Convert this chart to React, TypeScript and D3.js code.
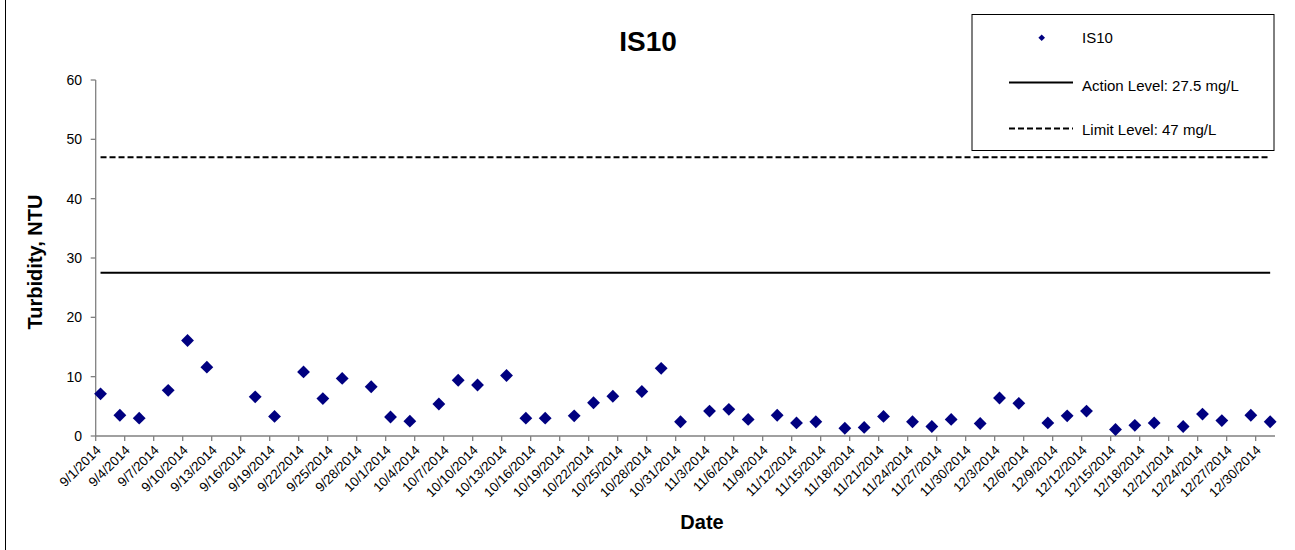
import React from "react";
import * as d3 from "d3";

const sampleDates: string[] = [
  "9/1/2014", "9/3/2014", "9/5/2014", "9/8/2014", "9/10/2014", "9/12/2014", "9/17/2014", "9/19/2014",
  "9/22/2014", "9/24/2014", "9/26/2014", "9/29/2014", "10/1/2014", "10/3/2014", "10/6/2014", "10/8/2014",
  "10/10/2014", "10/13/2014", "10/15/2014", "10/17/2014", "10/20/2014", "10/22/2014", "10/24/2014",
  "10/27/2014", "10/29/2014", "10/31/2014", "11/3/2014", "11/5/2014", "11/7/2014", "11/10/2014",
  "11/12/2014", "11/14/2014", "11/17/2014", "11/19/2014", "11/21/2014", "11/24/2014", "11/26/2014",
  "11/28/2014", "12/1/2014", "12/3/2014", "12/5/2014", "12/8/2014", "12/10/2014", "12/12/2014",
  "12/15/2014", "12/17/2014", "12/19/2014", "12/22/2014", "12/24/2014", "12/26/2014", "12/29/2014",
  "12/31/2014",
];

const turbidity: number[] = [
  7.1, 3.5, 3.0, 7.7, 16.1, 11.6, 6.6, 3.3,
  10.8, 6.3, 9.7, 8.3, 3.2, 2.5, 5.4, 9.4,
  8.6, 10.2, 3.0, 3.0, 3.4, 5.6, 6.7,
  7.5, 11.4, 2.4, 4.2, 4.5, 2.8, 3.5,
  2.2, 2.4, 1.3, 1.45, 3.3, 2.4, 1.6,
  2.8, 2.1, 6.4, 5.5, 2.2, 3.4, 4.2,
  1.1, 1.8, 2.2, 1.6, 3.7, 2.6, 3.5,
  2.4,
];

const tickLabels: string[] = [
  "9/1/2014", "9/4/2014", "9/7/2014", "9/10/2014", "9/13/2014", "9/16/2014", "9/19/2014", "9/22/2014",
  "9/25/2014", "9/28/2014", "10/1/2014", "10/4/2014", "10/7/2014", "10/10/2014", "10/13/2014",
  "10/16/2014", "10/19/2014", "10/22/2014", "10/25/2014", "10/28/2014", "10/31/2014", "11/3/2014",
  "11/6/2014", "11/9/2014", "11/12/2014", "11/15/2014", "11/18/2014", "11/21/2014", "11/24/2014",
  "11/27/2014", "11/30/2014", "12/3/2014", "12/6/2014", "12/9/2014", "12/12/2014", "12/15/2014",
  "12/18/2014", "12/21/2014", "12/24/2014", "12/27/2014", "12/30/2014",
];

const yTicks: number[] = [0, 10, 20, 30, 40, 50, 60];
const domainDates: string[] = ["9/1/2014", "1/1/2015"];
const actionLevel = 27.5;
const limitLevel = 47;
const seriesName = "IS10";
const actionLabel = "Action Level: 27.5 mg/L";
const limitLabel = "Limit Level: 47 mg/L";

const parse = d3.utcParse("%m/%d/%Y");
const FONT = "Arial, 'Liberation Sans', sans-serif";

export default function App() {
  const W = 1295;
  const H = 550;
  const left = 95.7;
  const right = 1275;
  const top = 80;
  const bottom = 436;

  const x = d3
    .scaleUtc()
    .domain([parse(domainDates[0]) as Date, parse(domainDates[1]) as Date])
    .range([left, right]);
  const y = d3.scaleLinear().domain([0, 60]).range([bottom, top]);

  const center = (s: string) => x(d3.utcHour.offset(parse(s) as Date, 12));
  const lineX0 = center(sampleDates[0]);
  const lineX1 = center(sampleDates[sampleDates.length - 1]);

  const diamond = d3.symbol().type(d3.symbolDiamond2).size(105)();
  const legendDiamond = d3.symbol().type(d3.symbolDiamond2).size(28)();

  const levelLine = d3.line<[number, number]>().x((d) => d[0]).y((d) => d[1]);

  return (
    <svg
      width={W}
      height={H}
      style={{ position: "absolute", left: 0, top: 0, background: "#fff" }}
      fontFamily={FONT}
    >
      <rect x={0} y={0} width={W} height={H} fill="#fff" />
      <line x1={5.5} x2={5.5} y1={0} y2={H} stroke="#000" strokeWidth={1} />

      {/* Title */}
      <text x={648} y={50.5} textAnchor="middle" fontSize={28} fontWeight="bold">
        {seriesName}
      </text>

      {/* Y axis */}
      <line x1={left} x2={left} y1={top} y2={bottom} stroke="#808080" strokeWidth={1.3} />
      {yTicks.map((t) => (
        <g key={t}>
          <line x1={left - 5} x2={left} y1={y(t)} y2={y(t)} stroke="#808080" strokeWidth={1.3} />
          <text x={82} y={y(t)} dy="0.35em" textAnchor="end" fontSize={14}>
            {t}
          </text>
        </g>
      ))}
      <text
        transform={`translate(41.5, 262) rotate(-90)`}
        textAnchor="middle"
        fontSize={20}
        fontWeight="bold"
      >
        Turbidity, NTU
      </text>

      {/* X axis */}
      <line x1={left} x2={right} y1={bottom} y2={bottom} stroke="#808080" strokeWidth={1.3} />
      {tickLabels.map((lab) => {
        const tx = x(parse(lab) as Date);
        return (
          <g key={lab}>
            <line x1={tx} x2={tx} y1={bottom} y2={bottom + 5} stroke="#808080" strokeWidth={1.3} />
            <text
              transform={`translate(${tx + 6}, 451) rotate(-45)`}
              textAnchor="end"
              fontSize={13.3}
            >
              {lab}
            </text>
          </g>
        );
      })}
      <text x={702} y={529} textAnchor="middle" fontSize={20} fontWeight="bold">
        Date
      </text>

      {/* Level lines */}
      <path
        d={levelLine([[lineX0, y(limitLevel)], [lineX1, y(limitLevel)]]) || ""}
        stroke="#000"
        strokeWidth={2}
        strokeDasharray="6,3"
        fill="none"
      />
      <path
        d={levelLine([[lineX0, y(actionLevel)], [lineX1, y(actionLevel)]]) || ""}
        stroke="#000"
        strokeWidth={2}
        fill="none"
      />

      {/* Points */}
      {sampleDates.map((s, i) => (
        <path
          key={s}
          d={diamond || ""}
          transform={`translate(${center(s)}, ${y(turbidity[i])})`}
          fill="#000080"
        />
      ))}

      {/* Legend */}
      <rect x={972} y={14.5} width={302} height={136} fill="#fff" stroke="#000" strokeWidth={1} />
      <path d={legendDiamond || ""} transform="translate(1041.7, 37.7)" fill="#000080" />
      <text x={1082} y={43} fontSize={15}>
        {seriesName}
      </text>
      <line x1={1009} x2={1073} y1={82.5} y2={82.5} stroke="#000" strokeWidth={2} />
      <text x={1082} y={90.5} fontSize={15}>
        {actionLabel}
      </text>
      <line x1={1009} x2={1073} y1={128.5} y2={128.5} stroke="#000" strokeWidth={2} strokeDasharray="6,3" />
      <text x={1082} y={135} fontSize={15}>
        {limitLabel}
      </text>
    </svg>
  );
}
